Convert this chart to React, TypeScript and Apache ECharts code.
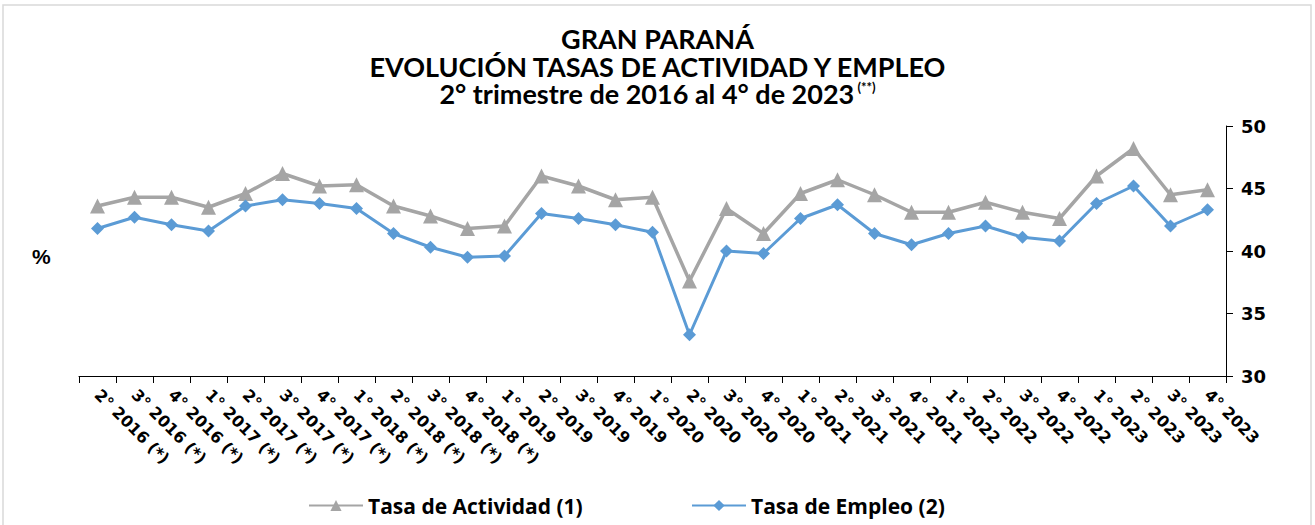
import React, { useEffect, useRef } from "react";
import * as echarts from "echarts";

const quarters = [
  "2°", "3°", "4°",
  "1°", "2°", "3°", "4°",
  "1°", "2°", "3°", "4°",
  "1°", "2°", "3°", "4°",
  "1°", "2°", "3°", "4°",
  "1°", "2°", "3°", "4°",
  "1°", "2°", "3°", "4°",
  "1°", "2°", "3°", "4°",
];
const years = [
  "2016 (*)", "2016 (*)", "2016 (*)",
  "2017 (*)", "2017 (*)", "2017 (*)", "2017 (*)",
  "2018 (*)", "2018 (*)", "2018 (*)", "2018 (*)",
  "2019", "2019", "2019", "2019",
  "2020", "2020", "2020", "2020",
  "2021", "2021", "2021", "2021",
  "2022", "2022", "2022", "2022",
  "2023", "2023", "2023", "2023",
];
const categories = quarters.map((q, i) => q + " " + years[i]);

const tasaActividad = [
  43.6, 44.3, 44.3, 43.5, 44.6, 46.2, 45.2, 45.3, 43.6, 42.8, 41.8,
  42.0, 46.0, 45.2, 44.1, 44.3, 37.6, 43.4, 41.4, 44.6, 45.7, 44.5,
  43.1, 43.1, 43.9, 43.1, 42.6, 46.0, 48.2, 44.5, 44.9,
];
const tasaEmpleo = [
  41.8, 42.7, 42.1, 41.6, 43.6, 44.1, 43.8, 43.4, 41.4, 40.3, 39.5,
  39.6, 43.0, 42.6, 42.1, 41.5, 33.3, 40.0, 39.8, 42.6, 43.7, 41.4,
  40.5, 41.4, 42.0, 41.1, 40.8, 43.8, 45.2, 42.0, 43.3,
];
const seriesNames = ["Tasa de Actividad (1)", "Tasa de Empleo (2)"];
const titleLines = [
  "GRAN PARANÁ",
  "EVOLUCIÓN TASAS DE ACTIVIDAD Y EMPLEO",
  "2° trimestre de 2016 al 4° de 2023",
];
const titleNote = "(**)";

export default function App() {
  const ref = useRef<HTMLDivElement>(null);
  useEffect(() => {
    document.body.style.margin = "0";
    const chart = echarts.init(ref.current!, null, { renderer: "svg" });
    const titleFont = "Lato, 'Open Sans', sans-serif";
    const legendText = { fontFamily: "'Open Sans', sans-serif", fontSize: 21, fontWeight: "bold", color: "#000" };
    chart.setOption({
      animation: false,
      backgroundColor: "#ffffff",
      title: {
        text:
          "{a|" + titleLines[0] + "}\n{a|" + titleLines[1] + "}\n{a|" + titleLines[2] + "}{s| " + titleNote + "}",
        left: "center",
        top: 20,
        textStyle: {
          rich: {
            a: { fontFamily: titleFont, fontSize: 27, fontWeight: "bold", color: "#000", lineHeight: 27.5, align: "center" },
            s: { fontFamily: titleFont, fontSize: 13, fontWeight: "bold", color: "#000", lineHeight: 27.5, padding: [0, 0, 14, 0] },
          },
        },
      },
      graphic: [
        {
          type: "rect",
          shape: { x: 3, y: 5, width: 1308, height: 530 },
          style: { fill: "none", stroke: "#d9d9d9", lineWidth: 1.5 },
          silent: true,
        },
        {
          type: "text",
          left: 32,
          top: 246,
          style: { text: "%", font: "bold 21px 'Liberation Sans', Arial, sans-serif", fill: "#000" },
        },
      ],
      legend: [
        {
          left: 303,
          top: 490,
          itemWidth: 54,
          itemHeight: 14,
          data: [seriesNames[0]],
          textStyle: legendText,
        },
        {
          left: 686,
          top: 490,
          itemWidth: 54,
          itemHeight: 14,
          data: [seriesNames[1]],
          textStyle: legendText,
        },
      ],
      grid: { left: 79, right: 89, top: 126, bottom: 149, containLabel: false },
      xAxis: {
        type: "category",
        data: categories,
        boundaryGap: true,
        axisLine: { show: true, lineStyle: { color: "#000", width: 1 } },
        axisTick: { show: true, interval: 0, length: 7, lineStyle: { color: "#000" } },
        axisLabel: {
          interval: 0,
          rotate: -45,
          margin: 16,
          fontFamily: "'DejaVu Sans', sans-serif",
          fontSize: 16,
          fontWeight: "bold",
          color: "#000",
        },
      },
      yAxis: {
        type: "value",
        position: "right",
        min: 30,
        max: 50,
        interval: 5,
        axisLine: { show: true, lineStyle: { color: "#000", width: 1 } },
        axisTick: { show: true, length: 7, inside: false, lineStyle: { color: "#000" } },
        splitLine: { show: false },
        axisLabel: {
          margin: 15,
          fontFamily: "'DejaVu Sans', sans-serif",
          fontSize: 18,
          fontWeight: "bold",
          color: "#000",
        },
      },
      series: [
        {
          name: seriesNames[0],
          type: "line",
          data: tasaActividad,
          symbol: "triangle",
          symbolSize: 15,
          lineStyle: { color: "#a5a5a5", width: 3.5 },
          itemStyle: { color: "#a5a5a5" },
          z: 2,
        },
        {
          name: seriesNames[1],
          type: "line",
          data: tasaEmpleo,
          symbol: "diamond",
          symbolSize: 13,
          lineStyle: { color: "#5b9bd5", width: 3 },
          itemStyle: { color: "#5b9bd5" },
          z: 3,
        },
      ],
    });
    return () => chart.dispose();
  }, []);
  return <div ref={ref} style={{ width: 1315, height: 525 }} />;
}
